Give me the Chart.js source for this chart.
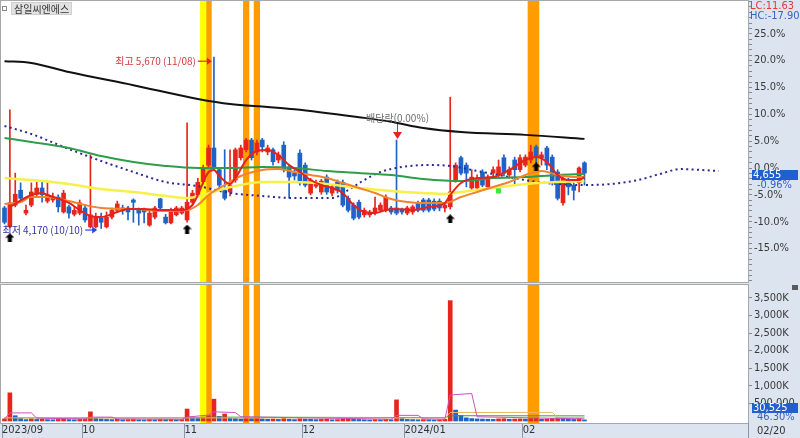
<!DOCTYPE html>
<html lang="ko">
<head>
<meta charset="UTF-8">
<meta name="viewport" content="width=device-width, initial-scale=1.0">
<title>삼일씨엔에스 - 일봉</title>
<script src="https://cdn.jsdelivr.net/npm/chart.js"></script>
<style>
  body { margin:0; width:800px; height:438px; position:relative; overflow:hidden; background:#dbe4ef; }
  .pane { position:absolute; left:0; width:800px; }
  #pricePane { top:0; height:283px; }
  #volPane { top:283px; height:155px; }
  .txt { position:absolute; font-family:'Liberation Sans Narrow','DejaVu Sans Condensed',sans-serif; font-size:11px; line-height:10px; white-space:nowrap; z-index:3; }
  .tag { left:752px; width:45px; height:10px; background:#1f5fd0; color:#fff; padding-left:1px; }
  #title { position:absolute; left:2px; top:2px; z-index:3; display:flex; align-items:center; }
  #title i { display:block; width:3px; height:3px; border:1px solid #8a8a8a; margin-right:4px; }
  #title span { background:#e2e2e2; border:1px solid #cfcfcf; color:#333; font:10px 'Noto Sans CJK KR',sans-serif; line-height:11px; padding:0 2px; }
</style>
</head>
<body>

<div id="pricePane" class="pane"><canvas id="priceChart"></canvas></div>
<div id="volPane" class="pane"><canvas id="volChart"></canvas></div>

<div id="title"><i></i><span>삼일씨엔에스</span></div>
<div class="txt" style="left:750px;top:1px;color:#e0393a">LC:11.63</div>
<div class="txt" style="left:750px;top:11px;color:#3563c4">HC:-17.90</div>
<div class="txt tag" id="priceTag" style="top:170px"></div>
<div class="txt" id="priceChg" style="left:757px;top:180px;color:#3563c4"></div>
<div class="txt tag" id="volTag" style="top:403px"></div>
<div class="txt" id="volChg" style="left:757px;top:412px;color:#3563c4"></div>
<div class="txt" style="left:757px;top:426px;color:#333">02/20</div>
<div style="position:absolute;left:748px;top:423px;width:1px;height:15px;background:#8c96a8"></div>
<div style="position:absolute;left:792px;top:285px;width:6px;height:5px;background:#5a5a5a;z-index:3"></div>

<script>
  // daily candles, 2023/09/07 .. 2024/02/20 (index 0..108)
  const open = [4350,4185,4375,4505,4305,4375,4470,4525,4410,4420,
    4445,4315,4360,4295,4305,4350,4185,4185,4260,4185,
    4270,4330,4350,4350,4420,4330,4330,4200,4270,4430,
    4270,4220,4290,4305,4245,4400,4465,4580,4725,4875,
    4685,4505,4490,4595,4790,4860,4945,4840,4945,4840,
    4860,4770,4900,4710,4655,4830,4725,4480,4540,4490,
    4620,4480,4575,4575,4435,4375,4400,4290,4290,4305,
    4330,4330,4350,4350,4340,4305,4315,4395,4420,4420,
    4410,4410,4350,4360,4595,4790,4725,4525,4525,4665,
    4535,4655,4640,4790,4640,4770,4685,4725,4770,4885,
    4790,4875,4795,4665,4395,4595,4550,4570,4745];
  const high = [4365,5210,4655,4570,4375,4570,4575,4585,4570,4480,
    4465,4505,4375,4365,4420,4375,4815,4305,4305,4315,
    4350,4410,4375,4365,4430,4350,4350,4325,4365,4435,
    4295,4350,4365,4365,5095,4505,4610,4725,4900,5670,
    4700,4860,4860,4875,4900,4960,4960,4945,4960,4900,
    4875,4840,4930,4725,4685,4860,4745,4610,4595,4600,
    4640,4550,4595,4595,4455,4395,4420,4350,4330,4445,
    4395,4465,4365,4945,4350,4365,4375,4410,4435,4435,
    4430,4430,4395,5320,4745,4805,4745,4685,4640,4685,
    4640,4710,4770,4815,4710,4795,4815,4815,4900,4900,
    4840,4890,4815,4685,4640,4610,4570,4710,4755];
  const low = [4210,4175,4360,4420,4290,4360,4455,4400,4395,4400,
    4315,4305,4260,4280,4290,4225,4175,4175,4170,4175,
    4255,4315,4295,4245,4225,4200,4220,4190,4255,4330,
    4210,4210,4280,4295,4225,4385,4455,4560,4700,4685,
    4525,4420,4455,4575,4770,4840,4770,4815,4840,4815,
    4725,4745,4665,4435,4595,4550,4535,4465,4525,4470,
    4470,4455,4480,4360,4315,4245,4255,4270,4270,4290,
    4315,4315,4295,4290,4295,4290,4295,4315,4315,4315,
    4325,4325,4315,4340,4575,4640,4535,4505,4505,4535,
    4515,4630,4610,4630,4610,4550,4665,4710,4745,4700,
    4725,4685,4550,4420,4375,4465,4420,4490,4550];
  const close = [4225,4395,4470,4435,4330,4490,4525,4465,4465,4445,
    4360,4480,4305,4330,4395,4245,4290,4270,4225,4270,
    4330,4385,4325,4315,4400,4305,4315,4305,4350,4350,
    4220,4330,4350,4350,4400,4480,4575,4700,4875,4710,
    4550,4435,4550,4860,4875,4945,4790,4920,4885,4875,
    4755,4815,4685,4620,4630,4570,4550,4595,4575,4585,
    4490,4535,4505,4375,4330,4260,4270,4330,4315,4350,
    4375,4445,4315,4305,4315,4350,4360,4330,4330,4330,
    4340,4350,4375,4490,4725,4655,4655,4620,4610,4550,
    4620,4685,4710,4655,4685,4685,4790,4795,4840,4795,
    4815,4725,4570,4435,4610,4535,4505,4700,4655];
  const volume = [60000,800000,150000,70000,40000,60000,45000,50000,40000,35000,
    45000,55000,40000,35000,45000,50000,260000,70000,55000,45000,
    40000,50000,35000,40000,45000,35000,30000,40000,35000,45000,
    40000,45000,35000,40000,340000,120000,90000,110000,150000,620000,
    130000,200000,80000,70000,60000,90000,70000,80000,60000,50000,
    55000,45000,70000,50000,40000,65000,55000,50000,40000,45000,
    50000,35000,40000,55000,60000,50000,45000,35000,30000,40000,
    35000,45000,35000,600000,70000,45000,40000,35000,40000,35000,
    30000,35000,50000,3420000,310000,160000,90000,70000,60000,55000,
    50000,45000,60000,65000,50000,55000,60000,55000,70000,80000,
    50000,60000,75000,90000,80000,55000,45000,65930,30525];

  // month boundaries on the date strip
  const monthLabels = ['2023/09', '10', '11', '12', '2024/01', '02'];
  const monthStarts = [0, 15, 34, 56, 75, 97];

  // moving averages (index, price)
  const maBlackX = [0, 5, 12, 24, 36, 42, 49, 54, 66, 72, 78, 85, 97, 108];
  const maBlackY = [5635, 5620, 5540, 5425, 5305, 5260, 5235, 5215, 5145, 5105, 5050, 5015, 4990, 4955];
  const maGreenX = [0, 5, 12, 18, 24, 30, 36, 42, 48, 54, 60, 66, 72, 78, 85, 91, 97, 103, 108];
  const maGreenY = [4963, 4928, 4875, 4805, 4753, 4718, 4700, 4700, 4709, 4700, 4674, 4656, 4639, 4604, 4586, 4612, 4621, 4639, 4647];
  const maYellowX = [0, 5, 12, 18, 24, 30, 34, 37, 40, 43, 48, 54, 60, 66, 72, 78, 82, 85, 91, 97, 103, 108];
  const maYellowY = [4612, 4595, 4560, 4516, 4490, 4455, 4437, 4464, 4507, 4542, 4577, 4577, 4560, 4525, 4499, 4481, 4472, 4490, 4525, 4560, 4577, 4586];
  const maOrangeX = [0, 3, 5, 8, 12, 15, 18, 24, 30, 34, 36, 38, 41, 44, 48, 51, 54, 57, 60, 63, 66, 69, 72, 75, 78, 82, 85, 88, 91, 94, 97, 100, 103, 106, 108];
  const maOrangeY = [4385, 4402, 4446, 4446, 4411, 4376, 4350, 4341, 4324, 4332, 4376, 4464, 4551, 4630, 4682, 4691, 4665, 4639, 4612, 4569, 4525, 4481, 4429, 4402, 4394, 4394, 4446, 4490, 4534, 4577, 4639, 4674, 4639, 4621, 4621];
  const maRedX = [1, 5, 7, 8, 12, 14, 16, 18, 21, 23, 26, 29, 33, 35, 36, 38, 39, 40, 42, 43, 45, 47, 49, 51, 53, 55, 57, 59, 61, 63, 65, 67, 69, 71, 73, 76, 79, 82, 83, 85, 88, 91, 94, 97, 99, 101, 103, 105, 107, 108];
  const maRedY = [4359, 4464, 4481, 4464, 4394, 4332, 4280, 4271, 4315, 4341, 4341, 4332, 4332, 4376, 4464, 4665, 4682, 4630, 4560, 4612, 4770, 4849, 4858, 4814, 4726, 4665, 4595, 4551, 4525, 4481, 4376, 4315, 4306, 4332, 4341, 4332, 4359, 4394, 4464, 4569, 4612, 4621, 4682, 4770, 4796, 4753, 4639, 4595, 4595, 4621];
  // shifted (leading) line, runs past the last candle
  const leadX = [0, 5, 12, 18, 24, 30, 36, 42, 48, 54, 61, 64, 67, 70, 74, 79, 83, 88, 93, 98, 103, 108, 113, 118, 122, 126, 130, 133];
  const leadY = [5068, 4998, 4866, 4761, 4665, 4577, 4542, 4481, 4455, 4437, 4437, 4507, 4595, 4665, 4709, 4726, 4718, 4674, 4630, 4586, 4560, 4551, 4560, 4595, 4647, 4691, 4682, 4674];

  // volume averages
  const volPinkX = [0, 1, 5, 6, 15, 16, 20, 21, 33, 34, 38, 39, 43, 44, 72, 73, 77, 78, 82, 83, 87, 88, 108];
  const volPinkY = [60000, 230000, 230000, 80000, 60000, 110000, 110000, 60000, 50000, 110000, 170000, 260000, 240000, 120000, 50000, 160000, 160000, 60000, 50000, 740000, 780000, 120000, 60000];
  const volTanX = [0, 82, 83, 102, 103, 108];
  const volTanY = [90000, 85000, 240000, 245000, 100000, 95000];
  const volGreenX = [0, 33, 39, 82, 83, 108];
  const volGreenY = [90000, 90000, 110000, 95000, 150000, 145000];

  // signal bands and markers
  const yellowBand = [37];
  const orangeBand = [38, 45, 47, 98, 99];
  const buyIdx = [1, 34, 83, 99];
  const buyPrice = [4090, 4165, 4255, 4710];
  const greenSigIdx = [92];
  const greenSigPrice = [4499];
  const exDivIdx = 73;
  const exDivText = '배당락(0.00%)';
  const hiDate = '11/08';
  const loDate = '10/10';

  // axis ticks: percent steps vs previous close, volume steps
  const pctTicks = [];
  for (let k = -21; k <= 31; k++) pctTicks.push(k);
  const volTicks = [500000, 1000000, 1500000, 2000000, 2500000, 3000000, 3500000];

  const UP = '#e8251d', DOWN = '#1f63c6';
  const FONT = "'Liberation Sans Narrow', 'DejaVu Sans Condensed', sans-serif";
  const KFONT = "'Noto Sans CJK KR', sans-serif";
  const XMIN = -0.466, XMAX = 138.45;
  const PMIN = 3702, PMAX = 6162;
  const VMIN = -57000, VMAX = 3864000;
  const last = close.length - 1;
  const BASE = close[last - 1];
  const STEP = BASE / 100;

  const idx = close.map((_, i) => i);
  const candleCol = idx.map(i => close[i] >= open[i] ? UP : DOWN);
  const volCol = idx.map(i => (i === 0 || volume[i] >= volume[i - 1]) ? UP : DOWN);
  const pts = (xa, ya) => xa.map((v, k) => ({ x: v, y: ya[k] }));

  document.getElementById('priceTag').textContent = close[last].toLocaleString('en-US');
  document.getElementById('priceChg').textContent = ((close[last] / BASE - 1) * 100).toFixed(2) + '%';
  document.getElementById('volTag').textContent = volume[last].toLocaleString('en-US');
  document.getElementById('volChg').textContent = (volume[last] / volume[last - 1] * 100).toFixed(2) + '%';

  function buyArrow() {
    const c = document.createElement('canvas');
    c.width = 9; c.height = 9;
    const g = c.getContext('2d');
    g.fillStyle = '#000';
    g.beginPath();
    g.moveTo(4.5, 0); g.lineTo(9, 4.5); g.lineTo(6.5, 4.5); g.lineTo(6.5, 9);
    g.lineTo(2.5, 9); g.lineTo(2.5, 4.5); g.lineTo(0, 4.5);
    g.closePath(); g.fill();
    return c;
  }

  function band(list, lo, hi, color) {
    return { type: 'bar', data: list.map(i => ({ x: i, y: [lo, hi] })), backgroundColor: color,
             barThickness: 5.6, grouped: false, order: 30 };
  }

  function line(xa, ya, color, width, order, extra) {
    return Object.assign({ type: 'line', data: pts(xa, ya), borderColor: color, borderWidth: width,
      pointRadius: 0, fill: false, cubicInterpolationMode: 'monotone', order: order }, extra || {});
  }

  // keep the axes from pushing the plot area in for label overflow
  function fitY(s) { s.width = 52; s.paddingTop = 0; s.paddingBottom = 0; }
  function fitX(s) { s.height = 15; s.paddingLeft = 0; s.paddingRight = 0; }

  const framePlugin = {
    id: 'frame',
    beforeDraw(chart) {
      const { ctx, chartArea: a } = chart;
      ctx.save();
      ctx.fillStyle = '#ffffff';
      ctx.fillRect(0, a.top, a.right, a.bottom - a.top);
      ctx.restore();
    },
    afterDraw(chart) {
      const { ctx, chartArea: a } = chart;
      ctx.save();
      ctx.strokeStyle = '#a8a8a8';
      ctx.lineWidth = 1;
      ctx.strokeRect(0.5, a.top - 0.5, a.right, a.bottom - a.top + 1);
      ctx.restore();
    }
  };

  function arrowH(ctx, x0, x1, y, col) {
    ctx.strokeStyle = col; ctx.fillStyle = col; ctx.lineWidth = 1.2;
    ctx.beginPath(); ctx.moveTo(x0, y); ctx.lineTo(x1 - 4, y); ctx.stroke();
    ctx.beginPath(); ctx.moveTo(x1, y); ctx.lineTo(x1 - 5, y - 3.5); ctx.lineTo(x1 - 5, y + 3.5);
    ctx.closePath(); ctx.fill();
  }

  const notesPlugin = {
    id: 'notes',
    afterDatasetsDraw(chart) {
      const { ctx, scales: { x, y } } = chart;
      const hi = high.indexOf(Math.max(...high));
      const lo = low.indexOf(Math.min(...low));
      ctx.save();
      ctx.font = '10px ' + KFONT;
      ctx.textBaseline = 'middle';
      ctx.textAlign = 'right';

      let px = x.getPixelForValue(hi), py = y.getPixelForValue(high[hi]) + 4;
      arrowH(ctx, px - 16, px - 2, py, UP);
      ctx.fillStyle = '#d2393a';
      ctx.fillText('최고 ' + high[hi].toLocaleString('en-US') + ' (' + hiDate + ')', px - 18, py);

      px = x.getPixelForValue(lo); py = y.getPixelForValue(low[lo]) + 1.5;
      arrowH(ctx, px - 16, px - 4, py, '#2b44e6');
      ctx.fillStyle = '#3434a6';
      ctx.fillText('최저 ' + low[lo].toLocaleString('en-US') + ' (' + loDate + ')', px - 18, py);

      px = Math.round(x.getPixelForValue(exDivIdx)) + 0.5; py = y.getPixelForValue(high[exDivIdx]);
      ctx.strokeStyle = UP; ctx.fillStyle = UP; ctx.lineWidth = 1;
      ctx.beginPath(); ctx.moveTo(px, py - 16); ctx.lineTo(px, py - 7); ctx.stroke();
      ctx.beginPath(); ctx.moveTo(px - 4.5, py - 8); ctx.lineTo(px + 4.5, py - 8); ctx.lineTo(px, py - 1);
      ctx.closePath(); ctx.fill();
      ctx.fillStyle = '#6c6c6c'; ctx.textAlign = 'center';
      ctx.fillText(exDivText, px, py - 22);
      ctx.restore();
    }
  };

  const axisTicks = { color: '#3a3a3a', font: { family: FONT, size: 11 }, padding: 2, autoSkip: false };
  const axisGrid = { drawOnChartArea: false, drawTicks: true, tickLength: 4, color: '#7f8a9c', offset: false };

  new Chart(document.getElementById('priceChart'), {
    type: 'bar',
    data: {
      datasets: [
        band(yellowBand, PMIN, PMAX, '#ffff00'),
        band(orangeBand, PMIN, PMAX, '#ff9c00'),
        { type: 'bar', data: idx.map(i => ({ x: i, y: [low[i], high[i]] })), backgroundColor: candleCol,
          barThickness: 1, grouped: false, order: 20 },
        { type: 'bar', data: idx.map(i => ({ x: i, y: [open[i], close[i]] })), backgroundColor: candleCol,
          barThickness: 4, grouped: false, order: 19 },
        line(leadX, leadY, '#2a2a92', 2, 12, { borderDash: [2, 3.37] }),
        line(maBlackX, maBlackY, '#111111', 2, 11),
        line(maYellowX, maYellowY, '#f6f04a', 2.5, 10),
        line(maGreenX, maGreenY, '#2f9d4a', 2, 9),
        line(maOrangeX, maOrangeY, '#f2832e', 2, 8),
        line(maRedX, maRedY, '#e4221c', 2, 7),
        { type: 'line', showLine: false, data: pts(buyIdx, buyPrice), pointStyle: buyArrow(), pointRadius: 5, order: 1 },
        { type: 'line', showLine: false, data: pts(greenSigIdx, greenSigPrice), pointStyle: 'rect', pointRadius: 3,
          backgroundColor: '#3ee63e', borderColor: '#3ee63e', order: 1 }
      ]
    },
    options: {
      responsive: true,
      maintainAspectRatio: false,
      animation: false,
      events: [],
      layout: { autoPadding: false, padding: { left: 2, top: 1, right: 0, bottom: 1 } },
      plugins: { legend: { display: false }, tooltip: { enabled: false } },
      scales: {
        x: { type: 'linear', min: XMIN, max: XMAX, offset: false, display: false, grid: { offset: false } },
        y: {
          type: 'linear', position: 'right', min: PMIN, max: PMAX, beginAtZero: false,
          afterBuildTicks: s => { s.ticks = pctTicks.map(k => ({ value: BASE + k * STEP })); },
          afterFit: fitY,
          grid: axisGrid,
          border: { display: true, color: '#9aa4b4' },
          ticks: Object.assign({}, axisTicks, {
            callback: v => {
              const pct = Math.round(v / STEP) - 100;
              if (pct % 5 !== 0 || pct < -15 || pct > 25) return '';
              return pct.toFixed(1) + '%';
            }
          })
        }
      }
    },
    plugins: [framePlugin, notesPlugin]
  });

  new Chart(document.getElementById('volChart'), {
    type: 'bar',
    data: {
      datasets: [
        band(yellowBand, VMIN, VMAX, '#ffff00'),
        band(orangeBand, VMIN, VMAX, '#ff9c00'),
        { type: 'bar', data: idx.map(i => ({ x: i, y: volume[i] })), backgroundColor: volCol,
          barThickness: 4, grouped: false, order: 20 },
        line(volGreenX, volGreenY, '#3a9a3a', 1, 9, { cubicInterpolationMode: 'default', tension: 0 }),
        line(volTanX, volTanY, '#e8b860', 1, 8, { cubicInterpolationMode: 'default', tension: 0 }),
        line(volPinkX, volPinkY, '#d050c0', 1, 7, { cubicInterpolationMode: 'default', tension: 0 })
      ]
    },
    options: {
      responsive: true,
      maintainAspectRatio: false,
      animation: false,
      events: [],
      layout: { autoPadding: false, padding: { left: 2, top: 2, right: 0, bottom: 0 } },
      plugins: { legend: { display: false }, tooltip: { enabled: false } },
      scales: {
        x: {
          type: 'linear', position: 'bottom', min: XMIN, max: XMAX, offset: false,
          afterBuildTicks: s => { s.ticks = monthStarts.map(i => ({ value: i === 0 ? XMIN : i - 0.5 })); },
          afterFit: fitX,
          grid: { drawOnChartArea: false, drawTicks: true, tickLength: 15, color: '#8c96a8', offset: false },
          border: { display: true, color: '#9aa4b4' },
          ticks: { color: '#333', font: { family: FONT, size: 11 }, autoSkip: false, maxRotation: 0,
                   align: 'start', padding: -14, callback: (v, k) => monthLabels[k] || '' }
        },
        y: {
          type: 'linear', position: 'right', min: VMIN, max: VMAX, beginAtZero: false,
          afterBuildTicks: s => { s.ticks = volTicks.map(v => ({ value: v })); },
          afterFit: fitY,
          grid: axisGrid,
          border: { display: true, color: '#9aa4b4' },
          ticks: Object.assign({}, axisTicks, {
            callback: v => v >= 1000000 ? (v / 1000).toLocaleString('en-US') + 'K' : '500,000'
          })
        }
      }
    },
    plugins: [framePlugin]
  });
</script>

</body>
</html>
